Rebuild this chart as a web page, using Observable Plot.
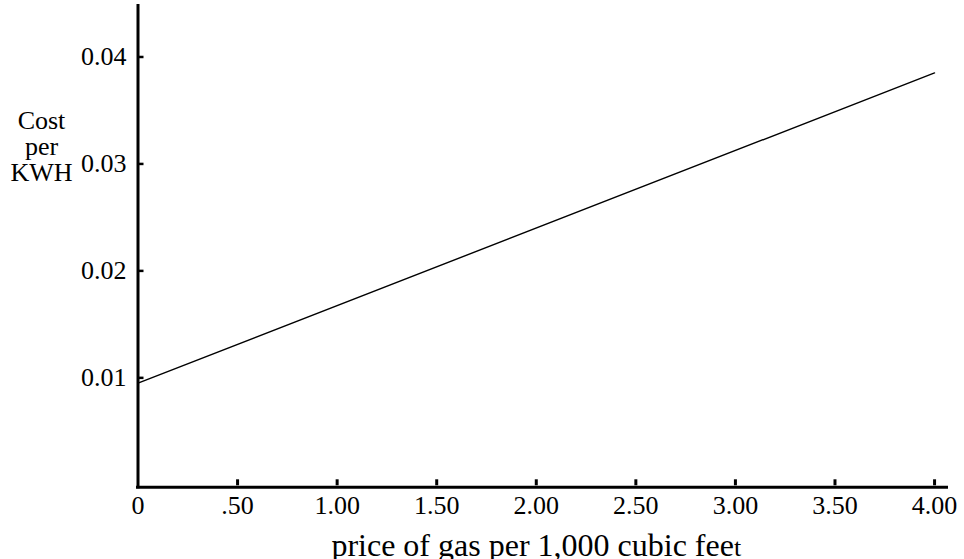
<!DOCTYPE html>
<html><head><meta charset="utf-8">
<script src="https://cdn.jsdelivr.net/npm/d3@7"></script>
<script src="https://cdn.jsdelivr.net/npm/@observablehq/plot@0.6"></script>
<style>html,body{margin:0;padding:0;background:#fff}#chart svg{display:block}</style>
</head><body><div id="chart"></div>
<script>
const price = [0, 4.0];
const cost = [0.0096, 0.0386];
const xTicks = [0, 0.5, 1, 1.5, 2, 2.5, 3, 3.5, 4];
const xTickLabels = ["0", ".50", "1.00", "1.50", "2.00", "2.50", "3.00", "3.50", "4.00"];
const yTicks = [0.01, 0.02, 0.03, 0.04];
const yTickLabels = ["0.01", "0.02", "0.03", "0.04"];
const xLabelMain = "price of gas per 1,000 cubic fee";
const xLabelTail = "t";
const yLabel = ["Cost", "per", "KWH"];
const xDomain = [0, 4.07];
const yDomain = [0, 0.045];

const data = price.map((p, i) => ({price: p, cost: cost[i]}));
const font = '"Liberation Serif","Times New Roman",Times,serif';
const xMid = d3.mean(d3.extent(xTicks));

const chart = Plot.plot({
  width: 964, height: 559,
  marginLeft: 137.5, marginRight: 16, marginTop: 4, marginBottom: 73.7,
  style: {fontFamily: font, background: "#fff", color: "#000", overflow: "visible"},
  x: {domain: xDomain},
  y: {domain: yDomain},
  marks: [
    Plot.ruleX([xDomain[0]], {strokeWidth: 3, insetBottom: -3, stroke: "#000"}),
    Plot.ruleY([yDomain[0]], {strokeWidth: 3, dy: 1.4, insetLeft: -1.5, stroke: "#000"}),
    Plot.axisX(xTicks.slice(1), {tickSize: -6, strokeWidth: 3, tickPadding: 15.7, fontSize: 26, label: null,
      tickFormat: d => xTickLabels[xTicks.indexOf(d)]}),
    Plot.axisX([xTicks[0]], {tickSize: 0, tickPadding: 9.7, fontSize: 26, label: null,
      tickFormat: d => xTickLabels[xTicks.indexOf(d)]}),
    Plot.axisY(yTicks, {tickSize: -6, strokeWidth: 2.5, tickPadding: 17.5, fontSize: 26, label: null, dy: -1,
      tickFormat: d => yTickLabels[yTicks.indexOf(d)]}),
    Plot.line(data, {x: "price", y: "cost", stroke: "#000", strokeWidth: 1.4}),
    Plot.text([yLabel.join("\n")], {frameAnchor: "top-left", dx: -96.5, dy: 105.8, textAnchor: "middle",
      lineAnchor: "top", lineHeight: 1.0, fontSize: 26, fill: "#000"}),
    Plot.text([{label: xLabelMain, x: xMid}], {x: "x", text: "label", frameAnchor: "bottom", lineAnchor: "bottom",
      dy: 69.7, fontSize: 32, fill: "#000", className: "xlabel"})
  ]
});
document.getElementById("chart").appendChild(chart);
const t = chart.querySelector("g.xlabel text") || chart.querySelector(".xlabel text");
if (t) {
  const ts = document.createElementNS("http://www.w3.org/2000/svg", "tspan");
  ts.setAttribute("font-size", "26");
  ts.textContent = xLabelTail;
  t.appendChild(ts);
}
</script>
</body></html>
